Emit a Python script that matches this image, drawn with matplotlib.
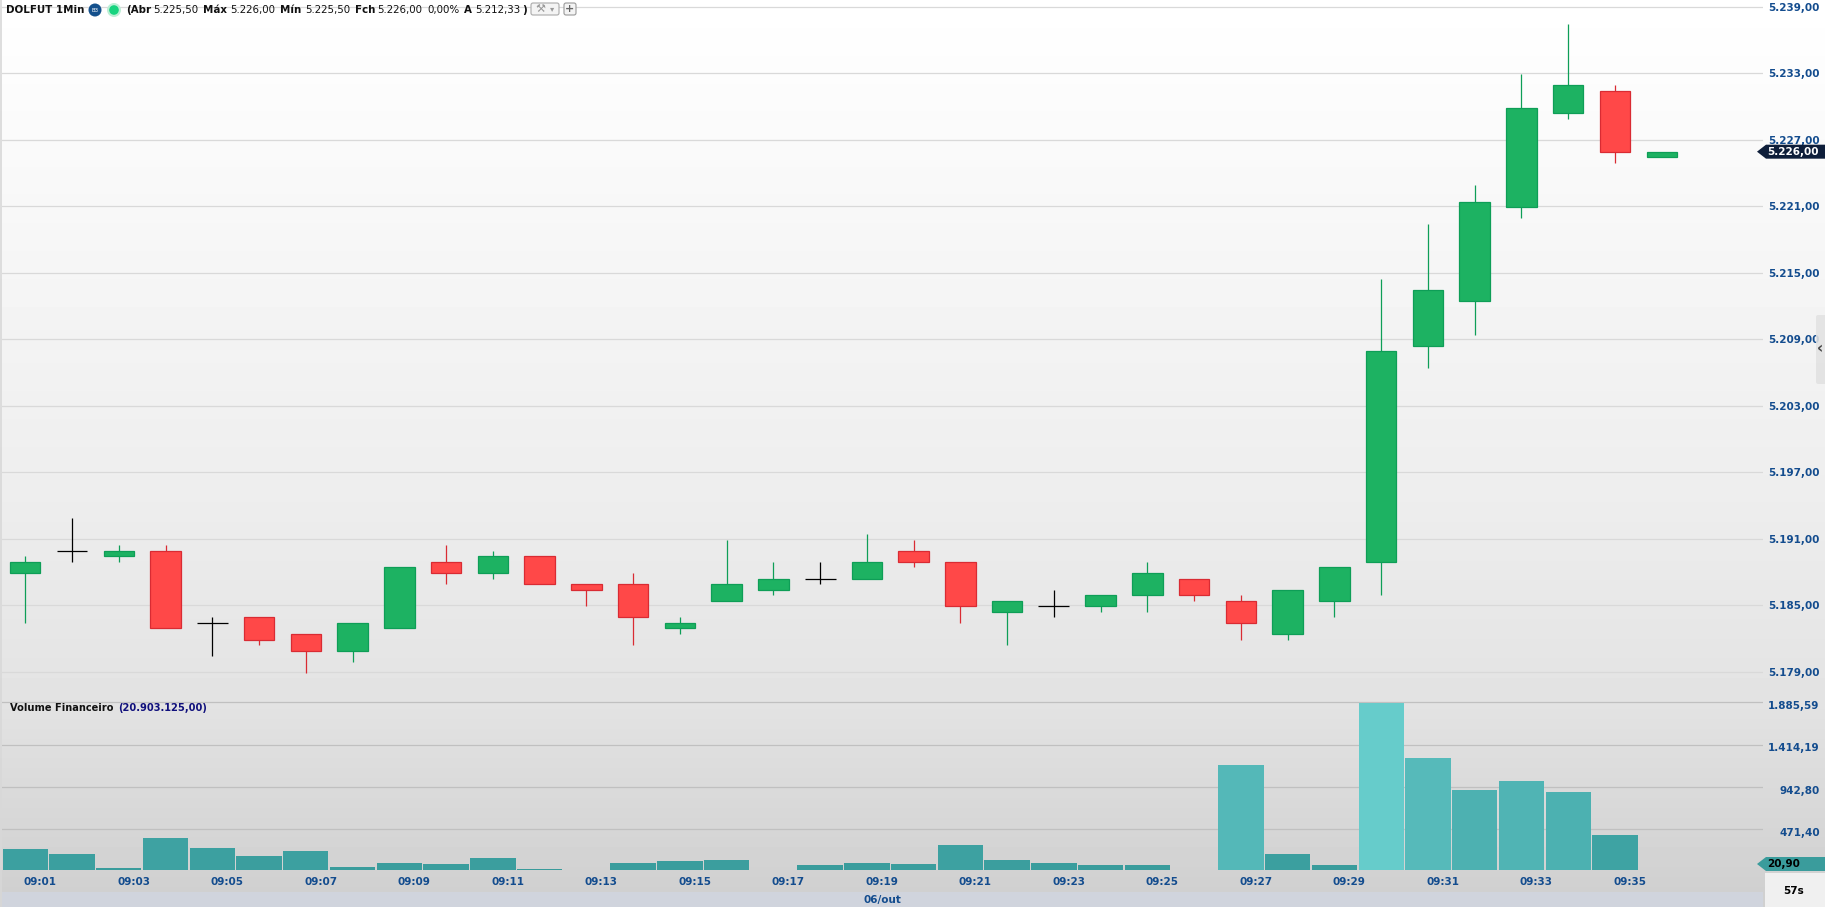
#!/usr/bin/env python3
# -*- coding: utf-8 -*-
import numpy as np
import matplotlib
matplotlib.use('Agg')
import matplotlib.pyplot as plt
from matplotlib.colors import LinearSegmentedColormap, Normalize
from matplotlib.patches import Circle, FancyBboxPatch, Polygon, Rectangle
from matplotlib.transforms import ScaledTranslation

plt.rcParams['font.family'] = ['DejaVu Sans']

#%% Data read from the screen

opens = [5188, 5190, 5189.5, 5190, 5183.5, 5184, 5182.5, 5181, 5183, 5189, 5188, 5189.5,
         5187, 5187, 5183, 5185.5, 5186.5, 5187.5, 5187.5, 5190, 5189, 5184.5, 5185, 5185,
         5186, 5187.5, 5185.5, 5182.5, 5185.5, 5189, 5208.5, 5212.5, 5221, 5229.5, 5231.5, 5225.5]
highs = [5189.5, 5193, 5190.5, 5190.5, 5184, 5184, 5182.5, 5183.5, 5188.5, 5190.5, 5190, 5189.5,
         5187, 5188, 5184, 5191, 5189, 5189, 5191.5, 5191, 5189, 5185.5, 5186.5, 5186,
         5189, 5187.5, 5186, 5186.5, 5188.5, 5214.5, 5219.5, 5223, 5233, 5237.5, 5232, 5226]
lows = [5183.5, 5189, 5189, 5183, 5180.5, 5181.5, 5179, 5180, 5183, 5187, 5187.5, 5187,
        5185, 5181.5, 5182.5, 5185.5, 5186, 5187, 5187.5, 5188.5, 5183.5, 5181.5, 5184, 5184.5,
        5184.5, 5185.5, 5182, 5182, 5184, 5186, 5206.5, 5209.5, 5220, 5229, 5225, 5225.5]
closes = [5189, 5190, 5190, 5183, 5183.5, 5182, 5181, 5183.5, 5188.5, 5188, 5189.5, 5187,
          5186.5, 5184, 5183.5, 5187, 5187.5, 5187.5, 5189, 5189, 5185, 5185.5, 5185, 5186,
          5188, 5186, 5183.5, 5186.5, 5188.5, 5208, 5213.5, 5221.5, 5230, 5232, 5226, 5226]
volumes = [252, 196, 40, 375, 263, 174, 230, 51, 96, 85, 151, 29,
           20.9, 96, 118, 129, 20.9, 73, 96, 85, 297, 129, 96, 73,
           73, 20.9, 1190, 196, 73, 1877, 1261, 909, 1013, 890, 408, 20.9]

price_ticks = [5179, 5185, 5191, 5197, 5203, 5209, 5215, 5221, 5227, 5233, 5239]
price_labels = ['5.179,00', '5.185,00', '5.191,00', '5.197,00', '5.203,00', '5.209,00',
                '5.215,00', '5.221,00', '5.227,00', '5.233,00', '5.239,00']
volume_ticks = [471.40, 942.80, 1414.19, 1885.59]
volume_labels = ['471,40', '942,80', '1.414,19', '1.885,59']
time_ticks = list(range(1, 36, 2))
time_labels = ['09:%02d' % m for m in time_ticks]

W, H = 1825, 907
blue = '#134C8E'
small = 7.5

fig = plt.figure(figsize=(W/100, H/100), dpi=100)

def box(left, top, right, bottom):
    return [left/W, 1-bottom/H, (right-left)/W, (bottom-top)/H]

#%% Background gradient

bg = fig.add_axes([0, 0, 1, 1], zorder=0)
shade = np.interp(np.arange(H), [0, 170, 500, 700, 890, 907],
                  [1.0, 0.976, 0.93, 0.89, 0.815, 0.815])
bg.imshow(shade[:, None], cmap='gray', vmin=0, vmax=1, aspect='auto')
bg.axis('off')

#%% Price pane

ax = fig.add_axes(box(2, 0, 1762.7, 702), zorder=1)
ax.patch.set_alpha(0)
x = np.arange(len(opens))
opens_a, highs_a, lows_a, closes_a = map(np.array, (opens, highs, lows, closes))

wick = np.where(closes_a > opens_a, '#0E9E57', np.where(closes_a < opens_a, '#D92B33', 'black'))
fill = np.where(closes_a > opens_a, '#1DB262', '#FF4848')
edge = np.where(closes_a > opens_a, '#0E9E57', '#D92B33')
doji = opens_a == closes_a

# the platform paints its candles about a pixel under the grid
nudge = ax.transData + ScaledTranslation(0, -1/100, fig.dpi_scale_trans)
wicks = ax.vlines(x, lows_a, highs_a, colors=wick, linewidth=0.9, zorder=3)
bodies = ax.bar(x[~doji], np.abs(closes_a-opens_a)[~doji], bottom=np.minimum(opens_a, closes_a)[~doji],
                width=0.65, color=fill[~doji], edgecolor=edge[~doji], linewidth=0.9, zorder=4)
crosses = ax.hlines(opens_a[doji], x[doji]-0.33, x[doji]+0.33, colors='black', linewidth=0.9, zorder=4)
wicks.set_transform(nudge)
crosses.set_transform(nudge)
for b in bodies:
    b.set_transform(nudge)

ax.set_xlim(-0.498, 37.16)
ax.set_ylim(5239 - (702-6.8)/11.083, 5239 + 6.8/11.083)
ax.set_yticks(price_ticks)
ax.set_yticklabels(price_labels)
ax.set_xticks([])
ax.grid(axis='y', color='#D9D9D9', linewidth=0.9, zorder=1)

#%% Volume pane

vax = fig.add_axes(box(2, 695, 1762.7, 870), zorder=1)
vax.patch.set_alpha(0)
bar_cmap = LinearSegmentedColormap.from_list(
    'vol', [(0, '#399B9B'), (0.21, '#3EA3A3'), (0.48, '#4DB1B1'), (0.66, '#55B9B9'), (1, '#66CCCB')])
bar_colors = bar_cmap(Normalize(0, 1885)(np.array(volumes)))
vol_bottom = 20.90
vax.bar(x, np.array(volumes)-vol_bottom, bottom=vol_bottom, width=0.97, color=bar_colors,
        linewidth=0, zorder=3)
vax.set_xlim(ax.get_xlim())
vax.set_ylim(vol_bottom, 1885.59 + 7.3/0.0899)
vax.set_yticks(volume_ticks)
vax.set_yticklabels(volume_labels)
vax.set_xticks([t-0.68 for t in time_ticks])
vax.set_xticklabels(time_labels)
vax.grid(axis='y', color='#C0C0C0', linewidth=0.9, zorder=1)

for a in (ax, vax):
    for s in a.spines.values():
        s.set_visible(False)
    a.yaxis.tick_right()
    a.tick_params(axis='y', length=0, pad=41, labelcolor=blue, labelsize=small)
    a.tick_params(axis='x', length=0, pad=5, labelcolor=blue, labelsize=small)
    for lab in a.get_yticklabels() + a.get_xticklabels():
        lab.set_fontweight('bold')
    for lab in a.get_yticklabels():
        lab.set_horizontalalignment('right')

# volume labels sit a little under their lines
shift = ScaledTranslation(0, -2.6/100, fig.dpi_scale_trans)
for lab in vax.get_yticklabels():
    lab.set_transform(lab.get_transform() + shift)

#%% Screen furniture, in pixels

top = fig.add_axes([0, 0, 1, 1], zorder=2)
top.set_xlim(0, W)
top.set_ylim(H, 0)
top.axis('off')

top.add_patch(Rectangle((2, 892), 1760.7, 15, color='#D0D4DD', lw=0))
top.add_patch(Rectangle((1765, 873), 60, 34, color='#F0F0F0', lw=0))
top.plot([1, 1], [0, 907], color='#D8D8D8', lw=1.2)
top.text(882, 900, '06/out', color=blue, fontweight='bold', fontsize=small, ha='center', va='center')
top.text(1794, 891, '57s', color='black', fontweight='bold', fontsize=small, ha='center', va='center')

def price_tag(y, text, face, color):
    pts = [(1757, y), (1766, y-7), (1825, y-7), (1825, y+7), (1766, y+7)]
    top.add_patch(Polygon(pts, closed=True, color=face, lw=0))
    top.text(1767, y, text, color=color, fontweight='bold', fontsize=small, ha='left', va='center')

price_tag(H - ax.transData.transform((0, closes[-1]))[1] + 0.8, '5.226,00', '#0E1E3A', 'white')
price_tag(H - vax.transData.transform((0, vol_bottom))[1] - 6, '20,90', '#3A9C9C', 'black')

# collapse handle over the 5.209 label
top.add_patch(FancyBboxPatch((1816, 315), 12, 69, boxstyle='round,pad=0,rounding_size=2',
                             fc='#E2E2E2', ec='none', alpha=0.88))
top.text(1820.5, 349, '‹', color='#444444', fontweight='bold', fontsize=11, ha='center', va='center')

# header line
head_y = 10
top.text(6, head_y, 'DOLFUT 1Min', color='#111111', fontweight='bold', fontsize=7.4, va='center')
top.add_patch(Circle((95, head_y), 6.5, color='#14508C', lw=0))
top.text(95, head_y, 'B3', color='white', fontsize=4, ha='center', va='center')
top.add_patch(Circle((114, head_y), 7, color='#BDEFD6', lw=0))
top.add_patch(Circle((114, head_y), 4.8, color='#16D47F', lw=0))
header = [(126, '(Abr', True), (153, '5.225,50', False), (203, 'Máx', True), (230, '5.226,00', False),
          (280, 'Mín', True), (305, '5.225,50', False), (355, 'Fch', True), (377, '5.226,00', False),
          (427, '0,00%', False), (464, 'A', True), (475, '5.212,33', False), (522, ')', True)]
for hx, txt, strong in header:
    top.text(hx, head_y, txt, color='#111111', fontweight='bold' if strong else 'normal',
             fontsize=7.4, va='center')
top.add_patch(FancyBboxPatch((531, 3), 28, 12, boxstyle='round,pad=0,rounding_size=2',
                             fc='#F4F4F4', ec='#AAAAAA', lw=0.8))
top.text(540, 9, '⚒', color='#999999', fontsize=8, ha='center', va='center')
top.text(552, 9, '▾', color='#999999', fontsize=6, ha='center', va='center')
top.add_patch(FancyBboxPatch((564, 3), 12, 12, boxstyle='round,pad=0,rounding_size=2',
                             fc='#F4F4F4', ec='#999999', lw=0.8))
top.text(570, 8.5, '+', color='#666666', fontweight='bold', fontsize=8, ha='center', va='center')

# subtitle of the volume pane
top.text(10, 708, 'Volume Financeiro', color='#111111', fontweight='bold', fontsize=7.1, va='center')
top.text(118, 708, '(20.903.125,00)', color='#10107C', fontweight='bold', fontsize=7.1, va='center')

fig.savefig('out.png', dpi=100)
